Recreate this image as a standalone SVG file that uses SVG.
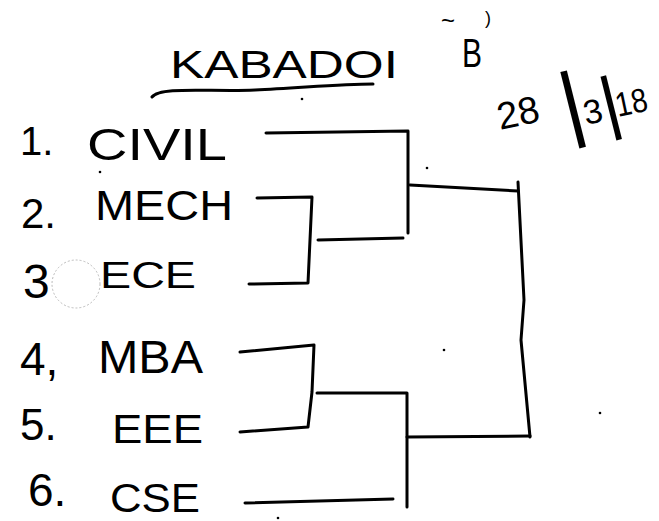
<svg xmlns="http://www.w3.org/2000/svg" width="659" height="521" viewBox="0 0 659 521">
<style>
text{font-family:"Liberation Sans","DejaVu Sans",sans-serif;fill:#000}
.ln{fill:none;stroke:#000;stroke-width:3;stroke-linecap:round;stroke-linejoin:round}
.dot{fill:#000}
</style>
<rect width="659" height="521" fill="#fff"/>
<g id="title">
<text x="170" y="78" font-size="38" textLength="228" lengthAdjust="spacingAndGlyphs">KABADOI</text>
<path class="ln" d="M152,97 C160,86 210,92 255,90 S340,84 373,84"/>
<text x="462" y="67" font-size="40" textLength="20" lengthAdjust="spacingAndGlyphs">B</text>
<text x="441" y="29" font-size="24">~</text>
<text x="485" y="24" font-size="18">)</text>
</g>
<g id="date">
<text x="500" y="130" font-size="38" transform="rotate(-12 500 130)">28</text>
<text x="573" y="131" font-size="84" text-anchor="middle" transform="rotate(-14 573 109)">|</text>
<text x="586" y="125" font-size="34" transform="rotate(-12 586 125)">3</text>
<text x="610" y="126" font-size="70" text-anchor="middle" transform="rotate(-14 610 103)">|</text>
<text x="618" y="117" font-size="34" textLength="32" lengthAdjust="spacingAndGlyphs" transform="rotate(-12 618 117)">18</text>
</g>
<g id="team1"><text x="20" y="155" font-size="40">1.</text><text x="87" y="160" font-size="44" textLength="140" lengthAdjust="spacingAndGlyphs">CIVIL</text></g>
<g id="team2"><text x="21" y="228" font-size="42">2.</text><text x="95" y="220" font-size="42" textLength="138" lengthAdjust="spacingAndGlyphs">MECH</text></g>
<g id="team3"><text x="23" y="298" font-size="48">3</text><circle cx="76" cy="284" r="24" fill="none" stroke="#bbb" stroke-width="1" stroke-dasharray="2 2"/><text x="100" y="288" font-size="36" textLength="96" lengthAdjust="spacingAndGlyphs">ECE</text></g>
<g id="team4"><text x="20" y="375" font-size="46">4,</text><text x="98" y="373" font-size="46" textLength="105" lengthAdjust="spacingAndGlyphs">MBA</text></g>
<g id="team5"><text x="20" y="440" font-size="44">5.</text><text x="112" y="443" font-size="40" textLength="91" lengthAdjust="spacingAndGlyphs">EEE</text></g>
<g id="team6"><text x="28" y="506" font-size="46">6.</text><text x="110" y="512" font-size="40" textLength="90" lengthAdjust="spacingAndGlyphs">CSE</text></g>
<g id="connectors">
<path class="ln" d="M266,133 L408,131 L408,233"/>
<path class="ln" d="M257,198 L312,197 L308,283 L249,284"/>
<path class="ln" d="M318,240 L403,238"/>
<path class="ln" d="M410,185 L518,191"/>
<path class="ln" d="M518,182 L524,300 L521,340 L530,437"/>
<path class="ln" d="M240,352 L314,345 L312,392 L308,427 L240,432"/>
<path class="ln" d="M317,393 L407,393 L407,507"/>
<path class="ln" d="M245,503 L393,499"/>
<path class="ln" d="M407,437 L530,436"/>
</g>
<g id="specks">
<circle class="dot" cx="100" cy="172" r="1.3"/>
<circle class="dot" cx="427" cy="168" r="1.3"/>
<circle class="dot" cx="444" cy="350" r="1.3"/>
<circle class="dot" cx="600" cy="413" r="1.3"/>
<circle class="dot" cx="278" cy="518" r="1.3"/>
<circle class="dot" cx="302" cy="99" r="1.3"/>
</g>
</svg>
